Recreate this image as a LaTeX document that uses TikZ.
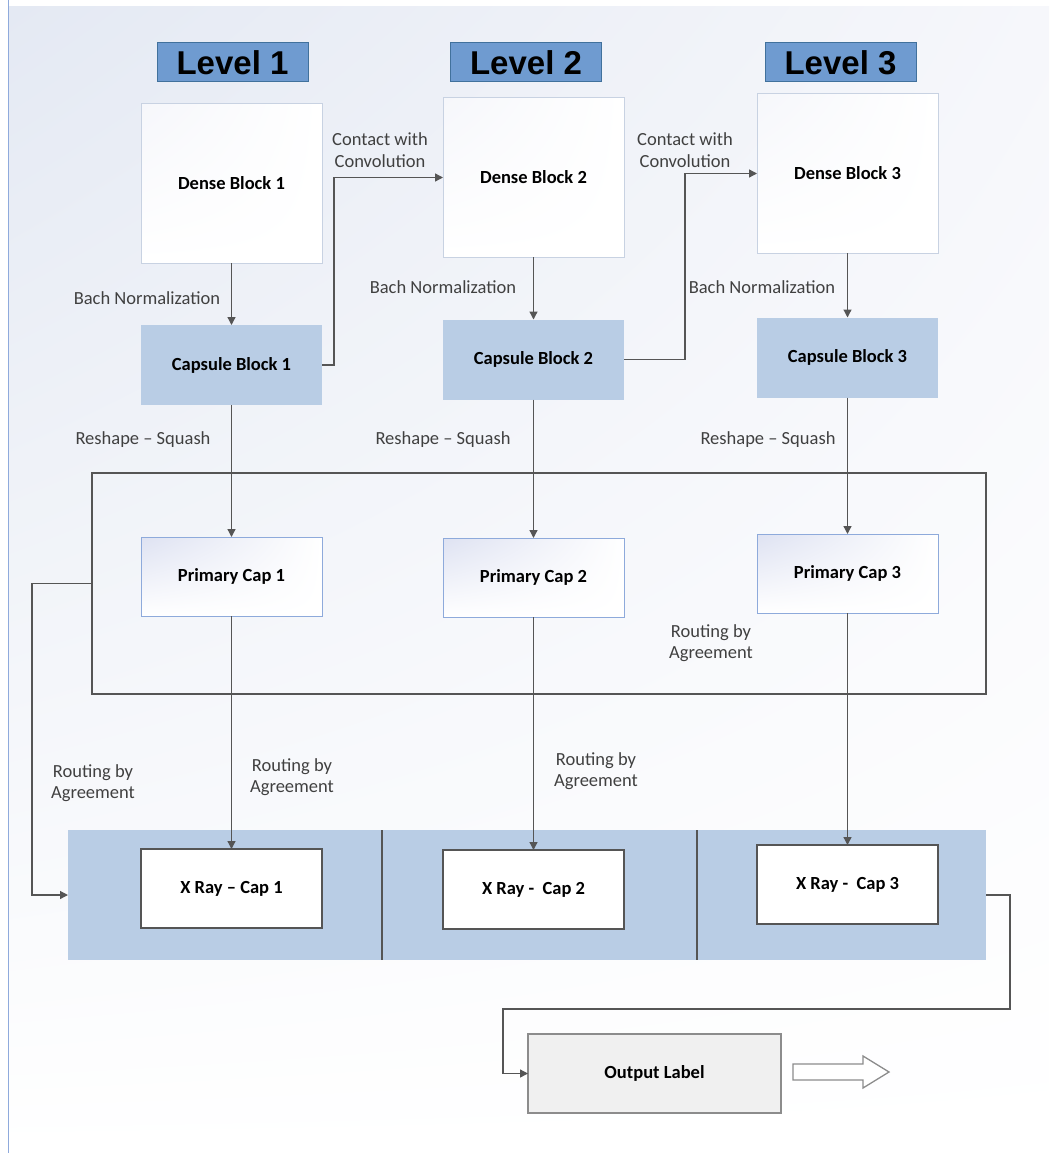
\documentclass[tikz,border=0pt]{standalone}
\usepackage{fontspec}
\setmainfont{Carlito}
\newfontfamily\hdrfont{Liberation Sans}
\usetikzlibrary{arrows.meta,shadings}
\definecolor{capblue}{RGB}{185,205,229}
\definecolor{hdrblue}{RGB}{111,155,208}
\definecolor{hdrline}{RGB}{65,113,156}
\definecolor{lineg}{RGB}{85,85,85}
\definecolor{txtg}{RGB}{64,64,64}
\definecolor{denseline}{RGB}{200,210,226}
\definecolor{primline}{RGB}{142,170,219}
\definecolor{bgtl}{RGB}{228,233,243}
\definecolor{bgtr}{RGB}{246,247,251}
\definecolor{primtl}{RGB}{222,226,242}
\definecolor{outfill}{RGB}{240,240,240}
\definecolor{outline}{RGB}{140,140,140}
\definecolor{leftline}{RGB}{143,170,220}
\begin{document}
\begin{tikzpicture}[x=1pt,y=-1pt,
  every node/.style={inner sep=0pt,outer sep=0pt},
  boxfont/.style={font=\fontsize{18.5}{21.5}\selectfont\bfseries},
  lbl/.style={font=\fontsize{18.5}{21.5}\selectfont, text=txtg, align=center},
  hdr/.style={draw=hdrline, line width=1pt, fill=hdrblue, minimum width=151pt, minimum height=39pt,
     font=\hdrfont\bfseries\fontsize{33}{36}\selectfont},
  densebox/.style={draw=denseline, line width=1pt, minimum width=181pt, minimum height=159pt,
     upper left=bgtr, upper right=white, lower left=white, lower right=white, boxfont},
  capbox/.style={fill=capblue, minimum width=181pt, minimum height=80pt, boxfont},
  primbox/.style={draw=primline, line width=1pt, minimum width=181pt, minimum height=79pt,
     upper left=primtl, upper right=white, lower left=white, lower right=white, boxfont},
  xbox/.style={draw=lineg, line width=1.3pt, fill=white, minimum width=181pt, minimum height=79pt, boxfont},
  conn/.style={draw=lineg, line width=1.3pt, -{Triangle[length=8pt,width=8pt]}},
  plain/.style={draw=lineg, line width=1.3pt}
]
\useasboundingbox (0,0) rectangle (1049,1153);
% background
\fill[white] (0,0) rectangle (1049,1153);
\shade[upper left=bgtl, upper right=bgtr, lower left=white, lower right=white] (8,7) rectangle (1049,1153);
\draw[leftline, line width=1.6pt] (8.5,0) -- (8.5,1153);

% band and frame
\node[fill=capblue, minimum width=918pt, minimum height=130pt] (band) at (527,895) {};
\draw[plain] (382,830) -- (382,960);
\draw[plain] (697,830) -- (697,960);
\node[draw=lineg, line width=1.3pt, minimum width=894pt, minimum height=221pt] (frame) at (539,583.5) {};

% headers
\node[hdr] (h1) at (232.5,62.5) {Level 1};
\node[hdr] (h2) at (526,62.5) {Level 2};
\node[hdr] (h3) at (840.5,62.5) {Level 3};

% dense blocks
\node[densebox] (d1) at (231.5,183.5) {Dense Block 1};
\node[densebox] (d2) at (533.5,177.5) {Dense Block 2};
\node[densebox] (d3) at (847.5,173.5) {Dense Block 3};

% capsule blocks
\node[capbox] (c1) at (231.5,365) {Capsule Block 1};
\node[capbox] (c2) at (533.5,359.5) {Capsule Block 2};
\node[capbox] (c3) at (847.5,357.5) {Capsule Block 3};

% primary caps
\node[primbox] (p1) at (231.5,576.5) {Primary Cap 1};
\node[primbox] (p2) at (533.5,577.5) {Primary Cap 2};
\node[primbox] (p3) at (847.5,573.5) {Primary Cap 3};

% x ray caps
\node[xbox] (x1) at (231.5,888.5) {X Ray -- Cap 1};
\node[xbox] (x2) at (533.5,889.5) {X Ray -\ \ Cap 2};
\node[xbox] (x3) at (847.5,884.5) {X Ray -\ \ Cap 3};

% output
\node[draw=outline, line width=1.3pt, fill=outfill, minimum width=253pt, minimum height=79pt, boxfont] (out) at (654.5,1073.5) {Output Label};
\draw[outline, line width=1.3pt, fill=white] (793,1064) -- (863,1064) -- (863,1056) -- (889,1072) -- (863,1088) -- (863,1080) -- (793,1080) -- cycle;

% connectors
\draw[conn] (d1.south) -- (c1.north);
\draw[conn] (d2.south) -- (c2.north);
\draw[conn] (d3.south) -- (c3.north);
\draw[conn] (c1.east) -- (334,365) |- (d2.west);
\draw[conn] (c2.east) -- (685,359.5) |- (d3.west);
\draw[conn] (c1.south) -- (p1.north);
\draw[conn] (c2.south) -- (p2.north);
\draw[conn] (c3.south) -- (p3.north);
\draw[conn] (p1.south) -- (x1.north);
\draw[conn] (p2.south) -- (x2.north);
\draw[conn] (p3.south) -- (x3.north);
\draw[conn] (frame.west) -- (32,583.5) |- (band.west);
\draw[conn] (band.east) -- (1010,895) -- (1010,1009) -- (503,1009) |- (out.west);

% labels
\node[lbl] (bn1) at (147,298) {Bach Normalization};
\node[lbl] (bn2) at (443,287) {Bach Normalization};
\node[lbl] (bn3) at (762,287) {Bach Normalization};
\node[lbl] (cc1) at (380,150) {Contact with\\Convolution};
\node[lbl] (cc2) at (685,150) {Contact with\\Convolution};
\node[lbl] (rs1) at (143,440) {Reshape -- Squash};
\node[lbl] (rs2) at (443,440) {Reshape -- Squash};
\node[lbl] (rs3) at (768,440) {Reshape -- Squash};
\node[lbl] (ra0) at (93,783) {Routing by\\Agreement};
\node[lbl] (ra1) at (292,777) {Routing by\\Agreement};
\node[lbl] (ra2) at (596,771) {Routing by\\Agreement};
\node[lbl] (ra3) at (711,643) {Routing by\\Agreement};
\end{tikzpicture}
\end{document}
